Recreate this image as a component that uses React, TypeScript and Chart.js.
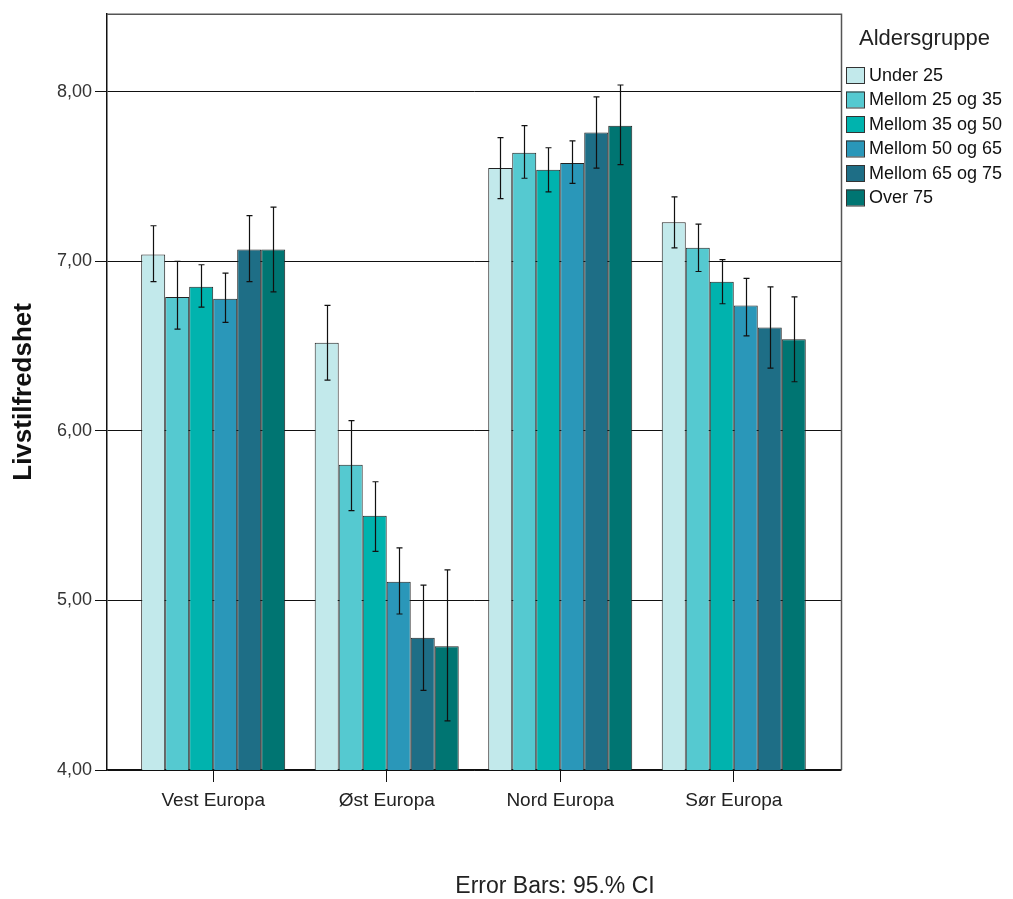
import React, { useEffect, useRef } from "react";
import { Chart, registerables } from "chart.js";

Chart.register(...registerables);

const regions = ["Vest Europa", "Øst Europa", "Nord Europa", "Sør Europa"];
const groupLabels = ["Under 25", "Mellom 25 og 35", "Mellom 35 og 50", "Mellom 50 og 65", "Mellom 65 og 75", "Over 75"];
const groupColors = ["#c2e9eb", "#55c9d0", "#00b3ae", "#2a97b9", "#1e6e86", "#007572"];

const under25 = [7.04, 6.52, 7.55, 7.23];
const m25to35 = [6.79, 5.8, 7.64, 7.08];
const m35to50 = [6.85, 5.5, 7.54, 6.88];
const m50to65 = [6.78, 5.11, 7.58, 6.74];
const m65to75 = [7.07, 4.78, 7.76, 6.61];
const over75 = [7.07, 4.73, 7.8, 6.54];

const ciLowUnder25 = [6.88, 6.3, 7.37, 7.08];
const ciLow25to35 = [6.6, 5.53, 7.49, 6.94];
const ciLow35to50 = [6.73, 5.29, 7.41, 6.75];
const ciLow50to65 = [6.64, 4.92, 7.46, 6.56];
const ciLow65to75 = [6.88, 4.47, 7.55, 6.37];
const ciLowOver75 = [6.82, 4.29, 7.57, 6.29];

const ciHighUnder25 = [7.21, 6.74, 7.73, 7.38];
const ciHigh25to35 = [7.0, 6.06, 7.8, 7.22];
const ciHigh35to50 = [6.98, 5.7, 7.67, 7.01];
const ciHigh50to65 = [6.93, 5.31, 7.71, 6.9];
const ciHigh65to75 = [7.27, 5.09, 7.97, 6.85];
const ciHighOver75 = [7.32, 5.18, 8.04, 6.79];

const yTicks = [4, 5, 6, 7, 8];

const means = [under25, m25to35, m35to50, m50to65, m65to75, over75];
const ciLow = [ciLowUnder25, ciLow25to35, ciLow35to50, ciLow50to65, ciLow65to75, ciLowOver75];
const ciHigh = [ciHighUnder25, ciHigh25to35, ciHigh35to50, ciHigh50to65, ciHigh65to75, ciHighOver75];

const FONT = "'Liberation Sans', Arial, sans-serif";

const errorBarPlugin = {
  id: "errorBars",
  afterDatasetsDraw(chart: any) {
    const ctx = chart.ctx;
    const yScale = chart.scales.y;
    ctx.save();
    ctx.strokeStyle = "#111";
    ctx.lineWidth = 1.2;
    chart.data.datasets.forEach((_ds: any, i: number) => {
      const meta = chart.getDatasetMeta(i);
      meta.data.forEach((el: any, j: number) => {
        const x = Math.round(el.x) + 0.5;
        const yHi = yScale.getPixelForValue(ciHigh[i][j]);
        const yLo = yScale.getPixelForValue(ciLow[i][j]);
        ctx.beginPath();
        ctx.moveTo(x, yHi);
        ctx.lineTo(x, yLo);
        ctx.moveTo(x - 3, yHi);
        ctx.lineTo(x + 3, yHi);
        ctx.moveTo(x - 3, yLo);
        ctx.lineTo(x + 3, yLo);
        ctx.stroke();
      });
    });
    ctx.restore();
  },
};

const framePlugin = {
  id: "frameAndLegend",
  afterDraw(chart: any) {
    const ctx = chart.ctx;
    const a = chart.chartArea;
    ctx.save();
    ctx.strokeStyle = "#555";
    ctx.lineWidth = 1.5;
    ctx.beginPath();
    ctx.moveTo(a.left, a.top + 0.5);
    ctx.lineTo(a.right + 0.5, a.top + 0.5);
    ctx.lineTo(a.right + 0.5, a.bottom);
    ctx.stroke();

    // legend
    ctx.fillStyle = "#222";
    ctx.font = `22px ${FONT}`;
    ctx.textBaseline = "middle";
    ctx.textAlign = "left";
    ctx.fillText("Aldersgruppe", 859, 39);
    ctx.font = `18px ${FONT}`;
    groupLabels.forEach((lab, i) => {
      const cy = 75 + i * 24.5;
      ctx.fillStyle = groupColors[i];
      ctx.fillRect(846, cy - 8, 18, 16);
      ctx.strokeStyle = "#333";
      ctx.lineWidth = 1;
      ctx.strokeRect(846.5, cy - 7.5, 18, 16);
      ctx.fillStyle = "#111";
      ctx.fillText(lab, 869, cy + 1);
    });

    ctx.font = `23px ${FONT}`;
    ctx.textAlign = "center";
    ctx.fillStyle = "#222";
    ctx.fillText("Error Bars: 95.% CI", 555, 887);
    ctx.restore();
  },
};

export default function App() {
  const ref = useRef<HTMLCanvasElement | null>(null);
  useEffect(() => {
    if (!ref.current) return;
    const chart = new Chart(ref.current, {
      type: "bar",
      data: {
        datasets: groupLabels.map((lab, i) => ({
          label: lab,
          data: means[i].map((v, j) => ({ x: j, y: v })),
          backgroundColor: groupColors[i],
          borderColor: "#222",
          borderWidth: 1,
          categoryPercentage: 0.83,
          barPercentage: 1,
        })),
      },
      options: {
        responsive: false,
        animation: false,
        devicePixelRatio: 1,
        layout: { padding: { top: 13, right: 172, left: 0, bottom: 0 } },
        plugins: {
          legend: { display: false },
          tooltip: { enabled: false },
          title: { display: false },
        },
        scales: {
          x: {
            type: "linear",
            offset: false,
            min: -0.612,
            max: 3.618,
            afterFit: (s: any) => {
              s.height = 129;
            },
            afterBuildTicks: (s: any) => {
              s.ticks = regions.map((_r, i) => ({ value: i }));
            },
            ticks: {
              callback: (v: any) => regions[v] ?? "",
              font: { family: FONT, size: 19 },
              color: "#222",
              padding: 7,
              maxRotation: 0,
              autoSkip: false,
            },
            grid: {
              display: true,
              offset: false,
              drawOnChartArea: false,
              drawTicks: true,
              tickLength: 12,
              tickColor: "#111",
            },
            border: { display: true, color: "#111", width: 1.5 },
          },
          y: {
            min: 4,
            max: 8.46,
            afterFit: (s: any) => {
              s.width = 107;
            },
            afterBuildTicks: (s: any) => {
              s.ticks = yTicks.map((v) => ({ value: v }));
            },
            ticks: {
              callback: (v: any) => Number(v).toFixed(2).replace(".", ","),
              font: { family: FONT, size: 18 },
              color: "#333",
              padding: 3,
            },
            grid: {
              color: "#111",
              lineWidth: 1,
              drawTicks: true,
              tickLength: 12,
              tickColor: "#111",
            },
            border: { display: true, color: "#111", width: 1.5 },
            title: {
              display: true,
              text: "Livstilfredshet",
              font: { family: FONT, size: 26, weight: "bold" },
              color: "#111",
              padding: { top: 8, bottom: 0 },
            },
          },
        },
      },
      plugins: [errorBarPlugin, framePlugin],
    });
    return () => chart.destroy();
  }, []);
  return (
    <div style={{ position: "fixed", left: 0, top: 0, width: 1013, height: 899, background: "#fff" }}>
      <canvas ref={ref} width={1013} height={899} />
    </div>
  );
}
